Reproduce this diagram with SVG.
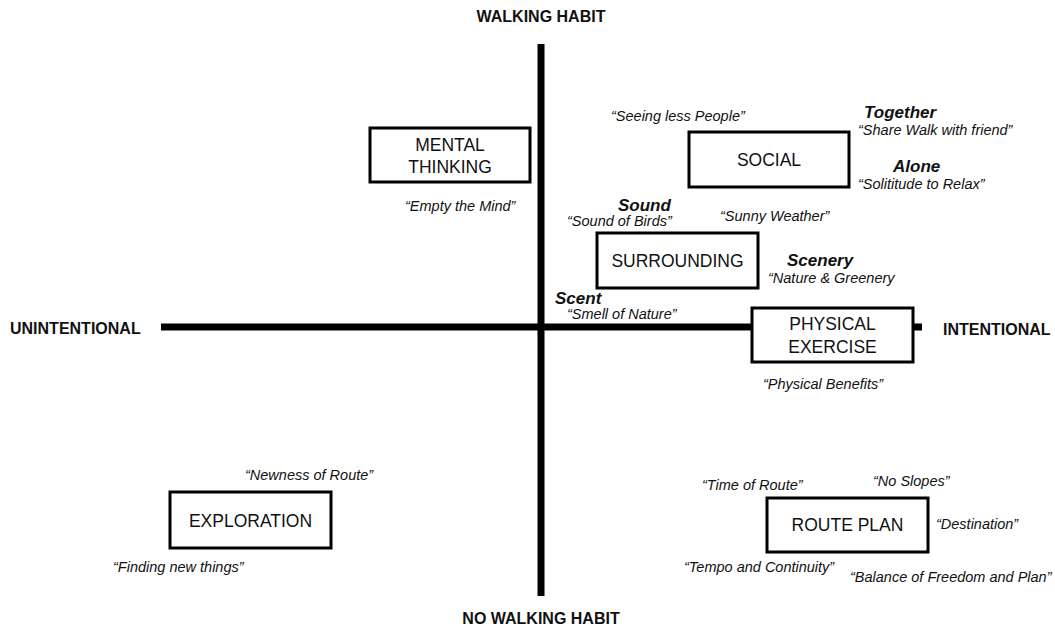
<svg xmlns="http://www.w3.org/2000/svg" width="1055" height="628" viewBox="0 0 1055 628">
<style>
.box{fill:#fff;stroke:#000;stroke-width:3}
.lbl{font-family:"Liberation Sans",Arial,sans-serif;font-size:17.5px;fill:#111;text-anchor:middle}
.ax{font-family:"Liberation Sans",Arial,sans-serif;font-size:16px;font-weight:bold;fill:#111}
.q{font-family:"Liberation Sans",Arial,sans-serif;font-size:14.5px;font-style:italic;fill:#111}
.h{font-family:"Liberation Sans",Arial,sans-serif;font-size:17px;font-style:italic;font-weight:bold;fill:#111}
.axis{stroke:#000;stroke-width:7;fill:none}
</style>
<rect width="1055" height="628" fill="#fff"/>
<g id="connectors">
<line class="axis" x1="541" y1="44" x2="541" y2="596"/>
<line class="axis" x1="161" y1="327" x2="922" y2="327"/>
</g>
<g id="axis-labels">
<text class="ax" x="541" y="22" text-anchor="middle">WALKING HABIT</text>
<text class="ax" x="541" y="624" text-anchor="middle">NO WALKING HABIT</text>
<text class="ax" x="10" y="334">UNINTENTIONAL</text>
<text class="ax" x="943" y="335">INTENTIONAL</text>
</g>
<g id="mental">
<rect class="box" x="370" y="128" width="160" height="54"/>
<text class="lbl" x="450" y="151">MENTAL</text>
<text class="lbl" x="450" y="173">THINKING</text>
<text class="q" x="405" y="211">“Empty the Mind”</text>
</g>
<g id="social">
<rect class="box" x="689" y="132" width="160" height="55"/>
<text class="lbl" x="769" y="166">SOCIAL</text>
<text class="q" x="611" y="121">“Seeing less People”</text>
<text class="h" x="864" y="118">Together</text>
<text class="q" x="858" y="135">“Share Walk with friend”</text>
<text class="h" x="893" y="172">Alone</text>
<text class="q" x="858" y="189">“Solititude to Relax”</text>
</g>
<g id="surrounding">
<rect class="box" x="597" y="233" width="161" height="55"/>
<text class="lbl" x="677.5" y="267">SURROUNDING</text>
<text class="h" x="618" y="211">Sound</text>
<text class="q" x="567" y="226">“Sound of Birds”</text>
<text class="q" x="720" y="221">“Sunny Weather”</text>
<text class="h" x="787" y="266">Scenery</text>
<text class="q" x="768" y="283">“Nature &amp; Greenery</text>
<text class="h" x="555" y="304">Scent</text>
<text class="q" x="567" y="319">“Smell of Nature”</text>
</g>
<g id="physical">
<rect class="box" x="752" y="308" width="161" height="54"/>
<text class="lbl" x="832.5" y="330">PHYSICAL</text>
<text class="lbl" x="832.5" y="353">EXERCISE</text>
<text class="q" x="763" y="389">“Physical Benefits”</text>
</g>
<g id="exploration">
<rect class="box" x="170" y="492" width="161" height="56"/>
<text class="lbl" x="250.5" y="527">EXPLORATION</text>
<text class="q" x="245" y="480">“Newness of Route”</text>
<text class="q" x="113" y="572">“Finding new things”</text>
</g>
<g id="routeplan">
<rect class="box" x="767" y="498" width="161" height="54"/>
<text class="lbl" x="847.5" y="531">ROUTE PLAN</text>
<text class="q" x="702" y="490">“Time of Route”</text>
<text class="q" x="873" y="486">“No Slopes”</text>
<text class="q" x="936" y="529">“Destination”</text>
<text class="q" x="684" y="572">“Tempo and Continuity”</text>
<text class="q" x="850" y="582">“Balance of Freedom and Plan”</text>
</g>
</svg>
